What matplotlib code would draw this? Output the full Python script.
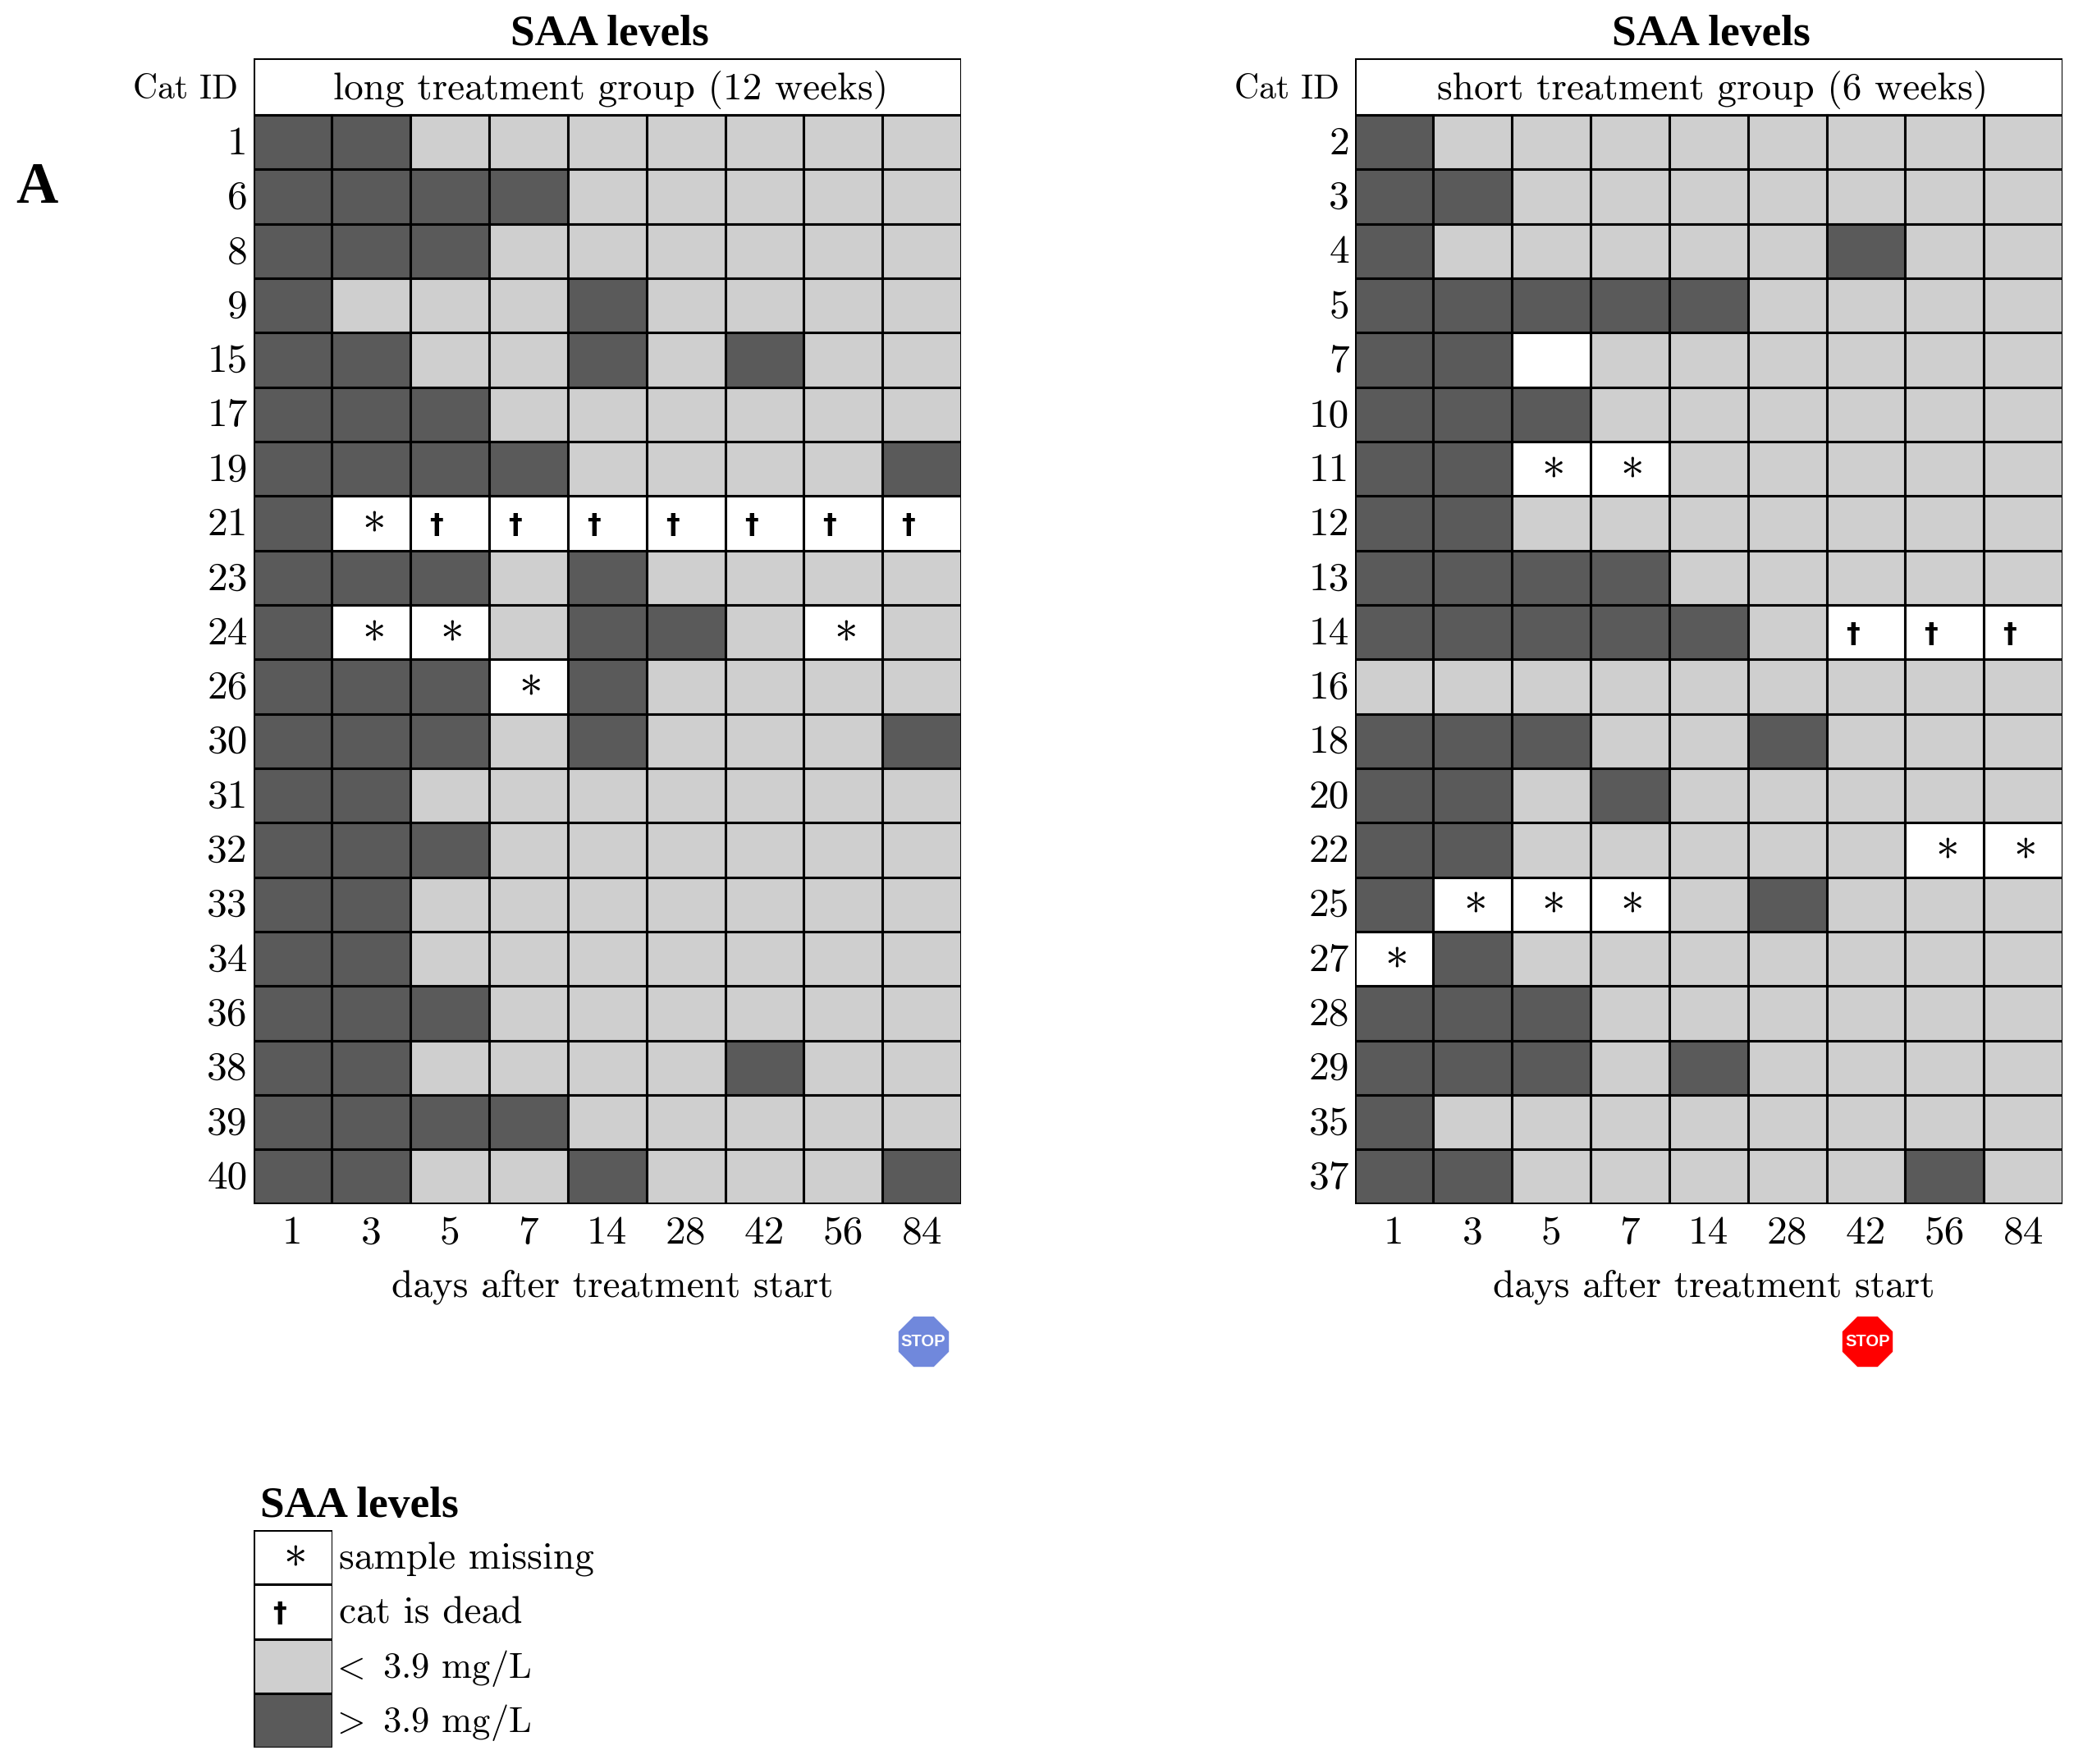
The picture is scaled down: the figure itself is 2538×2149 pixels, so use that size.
import matplotlib
matplotlib.use("Agg")
import matplotlib.pyplot as plt
from matplotlib.patches import Rectangle

W, H = 2538, 2149

days = [1, 3, 5, 7, 14, 28, 42, 56, 84]

# H = above 3.9, L = below 3.9, M = sample missing, D = cat dead, B = empty
long_ids = [1, 6, 8, 9, 15, 17, 19, 21, 23, 24, 26, 30, 31, 32, 33, 34, 36, 38, 39, 40]
long_levels = [
    "HHLLLLLLL",
    "HHHHLLLLL",
    "HHHLLLLLL",
    "HLLLHLLLL",
    "HHLLHLHLL",
    "HHHLLLLLL",
    "HHHHLLLLH",
    "HMDDDDDDD",
    "HHHLHLLLL",
    "HMMLHHLML",
    "HHHMHLLLL",
    "HHHLHLLLH",
    "HHLLLLLLL",
    "HHHLLLLLL",
    "HHLLLLLLL",
    "HHLLLLLLL",
    "HHHLLLLLL",
    "HHLLLLHLL",
    "HHHHLLLLL",
    "HHLLHLLLH",
]

short_ids = [2, 3, 4, 5, 7, 10, 11, 12, 13, 14, 16, 18, 20, 22, 25, 27, 28, 29, 35, 37]
short_levels = [
    "HLLLLLLLL",
    "HHLLLLLLL",
    "HLLLLLHLL",
    "HHHHHLLLL",
    "HHBLLLLLL",
    "HHHLLLLLL",
    "HHMMLLLLL",
    "HHLLLLLLL",
    "HHHHLLLLL",
    "HHHHHLDDD",
    "LLLLLLLLL",
    "HHHLLHLLL",
    "HHLHLLLLL",
    "HHLLLLLMM",
    "HMMMLHLLL",
    "MHLLLLLLL",
    "HHHLLLLLL",
    "HHHLHLLLL",
    "HLLLLLLLL",
    "HHLLLLLHL",
]

legend_codes = ["M", "D", "L", "H"]
# cmr10 has other glyphs at < and >, so those two signs go through mathtext
legend_labels = ["sample missing", "cat is dead", r"$\!\!<$ 3.9 mg/L", r"$\!\!>$ 3.9 mg/L"]

FILL = {"H": "#5a5a5a", "L": "#cfcfcf", "M": "white", "D": "white", "B": "white"}
TEXT_FONT = ["cmr10", "DejaVu Serif"]
BOLD_FONT = "Liberation Serif"
TEXT_SIZE = 35.5
WIDE_SIZE = 34
BOLD_SIZE = 38.5
LW = 2.2

plt.rcParams["mathtext.fontset"] = "cm"


def px_axes(fig, left, top, right, bottom):
    return fig.add_axes([left / W, 1 - bottom / H, (right - left) / W, (bottom - top) / H])


def draw_cell(ax, col, row, code):
    ax.add_patch(Rectangle((col, row), 1, 1, facecolor=FILL[code], edgecolor="black", linewidth=LW))
    if code == "M":
        ax.text(col + 0.53, row + 0.72, "*", family=TEXT_FONT, fontsize=41, ha="center", va="center")
    elif code == "D":
        ax.text(col + 0.33, row + 0.55, "\u2020", family="DejaVu Sans", fontweight="bold", fontsize=24,
                ha="center", va="center")


def draw_table(fig, left, right, ids, levels, header, stop_day, stop_color):
    ax = px_axes(fig, left, 71, right, 1466.5)
    header_h = 69 / 66.3
    ax.set_xlim(0, len(days))
    ax.set_ylim(len(ids), -header_h)
    ax.axis("off")

    ax.add_patch(Rectangle((0, -header_h), len(days), header_h, facecolor="white", edgecolor="black", linewidth=LW))
    ax.text(len(days) / 2 + 0.05, -header_h / 2 + 0.06, header, family=TEXT_FONT, fontsize=WIDE_SIZE,
            ha="center", va="center")
    ax.text(-0.19, -header_h / 2 + 0.06, "Cat ID", family=TEXT_FONT, fontsize=30, ha="right", va="center")
    ax.text(len(days) / 2 + 0.03, -1.28, "SAA levels", family=BOLD_FONT, fontweight="bold", fontsize=BOLD_SIZE,
            ha="center", va="baseline")

    for row, (cat, line) in enumerate(zip(ids, levels)):
        ax.text(-0.07, row + 0.46, str(cat), family=TEXT_FONT, fontsize=TEXT_SIZE, ha="right", va="center_baseline")
        for col, code in enumerate(line):
            draw_cell(ax, col, row, code)

    for col, day in enumerate(days):
        ax.text(col + 0.5, len(ids) + 0.73, str(day), family=TEXT_FONT, fontsize=TEXT_SIZE, ha="center",
                va="baseline")
    ax.text(len(days) / 2 + 0.07, len(ids) + 1.71, "days after treatment start", family=TEXT_FONT,
            fontsize=WIDE_SIZE, ha="center", va="baseline")

    stop_col = days.index(stop_day) + 0.52
    ax.plot([stop_col], [len(ids) + 2.53], marker="8", markersize=46, color=stop_color, clip_on=False,
            markeredgecolor=stop_color)
    ax.text(stop_col, len(ids) + 2.53, "STOP", family="Liberation Sans", fontweight="bold", fontsize=14.5,
            color="white", ha="center", va="center")


fig = plt.figure(figsize=(W / 100, H / 100), dpi=100, facecolor="white")

draw_table(fig, 308.5, 1171, long_ids, long_levels, "long treatment group (12 weeks)", 84, "#7088dc")
draw_table(fig, 1650.5, 2513, short_ids, short_levels, "short treatment group (6 weeks)", 42, "#ff0000")

# legend
lax = px_axes(fig, 309, 1864, 405, 2129)
lax.set_xlim(0, 1)
lax.set_ylim(len(legend_codes), 0)
lax.axis("off")
for row, (code, label) in enumerate(zip(legend_codes, legend_labels)):
    draw_cell(lax, 0, row, code)
    size = 32 if "$" in label else WIDE_SIZE
    lax.text(1.08, row + 0.72, label, family=TEXT_FONT, fontsize=size, ha="left", va="baseline")
lax.text(0.08, -0.24, "SAA levels", family=BOLD_FONT, fontweight="bold", fontsize=BOLD_SIZE, ha="left", va="baseline")

fig.text(19 / W, 1 - 247 / H, "A", family=BOLD_FONT, fontweight="bold", fontsize=51, ha="left", va="baseline")

fig.savefig("out.png", dpi=100)
plt.close(fig)
